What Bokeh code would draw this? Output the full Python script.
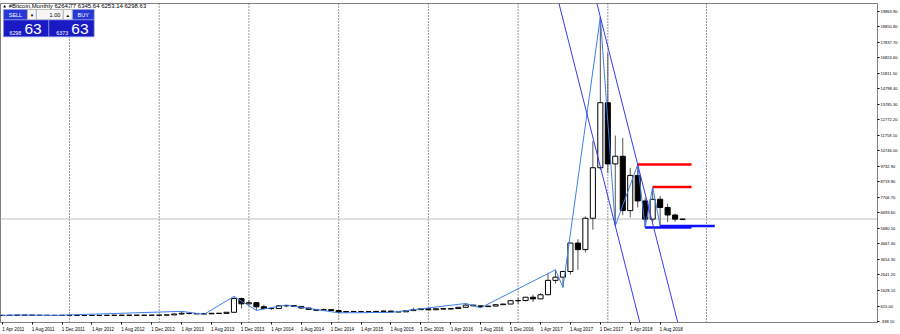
import numpy as np
import pandas as pd
from bokeh.plotting import figure
from bokeh.models import (Range1d, FixedTicker, PrintfTickFormatter, Span, Slope,
                          Label, ColumnDataSource)
from bokeh.embed import file_html
from bokeh.resources import INLINE

# ---------------- data ----------------
header_text = "#Bitcoin,Monthly  6264.77 6345.64 6253.14 6298.63"
months = pd.date_range("2011-04-01", "2018-11-01", freq="MS")

opens = [0.8, 3.5, 8.7, 16.1, 13.4, 8.2, 5.1, 3.3, 3.0,
         4.7, 5.5, 4.9, 4.9, 5.0, 5.2, 6.7, 9.4, 10.2, 12.4, 11.2, 12.6,
         13.5, 20.4, 33.4, 93, 139, 129, 97, 106, 140, 133, 204, 1100,
         757, 830, 565, 457, 447, 628, 640, 587, 481, 388, 338, 378,
         320, 217, 254, 244, 236, 230, 263, 284, 230, 236, 314, 377,
         430, 369, 437, 416, 448, 531, 673, 624, 574, 609, 700, 742,
         963, 970, 1190, 1080, 1350, 2290, 2500, 2870, 4730, 4300, 6350, 9650,
         13900, 9900, 10400, 6850, 9150, 7480, 6290, 7590, 7050, 6560, 6264.77]
highs = [3.9, 8.9, 31.9, 16.5, 13.9, 8.3, 5.2, 3.6, 4.8,
         7.4, 6.3, 5.4, 5.3, 5.2, 6.7, 9.6, 16.4, 12.9, 12.9, 12.6, 14.0,
         20.6, 33.8, 95, 266, 140, 130, 111, 140, 147, 213, 1242, 1160,
         1000, 870, 700, 540, 630, 680, 660, 600, 520, 425, 460, 400,
         320, 265, 300, 262, 248, 268, 317, 285, 245, 335, 503, 467,
         462, 448, 439, 468, 549, 780, 704, 627, 630, 720, 756, 980,
         1150, 1200, 1350, 1450, 2780, 2980, 2920, 4760, 4980, 6470, 11400, 19500,
         17150, 11750, 11600, 9650, 9860, 7700, 8390, 7800, 7300, 6650, 6345.64]
lows = [0.6, 2.9, 8.6, 12.9, 6.5, 4.3, 2.0, 2.0, 2.3,
        4.6, 4.2, 4.6, 4.7, 4.9, 5.2, 6.5, 7.1, 9.8, 9.7, 10.0, 12.0,
        13.0, 19.1, 33.0, 50, 79, 88, 65, 100, 105, 105, 200, 455,
        740, 330, 440, 360, 420, 530, 570, 450, 380, 275, 310, 310,
        166, 212, 236, 215, 225, 220, 253, 198, 225, 235, 300, 347,
        352, 366, 396, 414, 442, 526, 606, 500, 565, 604, 683, 740,
        750, 920, 890, 1060, 1330, 2080, 1830, 2670, 2980, 4110, 5600, 9500,
        9300, 5860, 6550, 6400, 7050, 5750, 6100, 5850, 6100, 6120, 6253.14]
closes = [3.5, 8.7, 16.1, 13.4, 8.2, 5.1, 3.3, 3.0, 4.7,
          5.5, 4.9, 4.9, 5.0, 5.2, 6.7, 9.4, 10.2, 12.4, 11.2, 12.6, 13.5,
          20.4, 33.4, 93, 139, 129, 97, 106, 140, 133, 204, 1100, 757,
          830, 565, 457, 447, 628, 640, 587, 481, 388, 338, 378, 320,
          217, 254, 244, 236, 230, 263, 284, 230, 236, 314, 377, 430,
          369, 437, 416, 448, 531, 673, 624, 574, 609, 700, 742, 963,
          970, 1190, 1080, 1350, 2290, 2500, 2870, 4730, 4300, 6350, 9650, 13900,
          9900, 10400, 6850, 9150, 7480, 6290, 7590, 7050, 6560, 6290, 6298.63]

# zigzag vertices (bar index, price)
zz_idx = [0, 2, 7, 24, 27, 31, 34, 38, 45, 52, 62, 64, 74, 75, 80, 82, 85, 86, 87, 88]
zz_val = [0.6, 31.9, 2.0, 266, 65, 1242, 330, 680, 166, 198, 780, 500,
          2980, 1830, 19500, 5860, 9860, 5750, 8390, 5850]

# channel: base line through two points, parallel line through a third
chan_idx = [80, 85]
chan_val = [19500, 9860]
chan_par_idx = 82
chan_par_val = 5860

# horizontal levels (start bar, price)
level_idx = [85, 87, 86, 88]
level_val = [9860, 8390, 5750, 5850]
level_kind = ["res", "res", "sup", "sup"]

x_tick_labels = ["1 Apr 2011", "1 Aug 2011", "1 Dec 2011", "1 Apr 2012", "1 Aug 2012",
                 "1 Dec 2012", "1 Apr 2013", "1 Aug 2013", "1 Dec 2013", "1 Apr 2014",
                 "1 Aug 2014", "1 Dec 2014", "1 Apr 2015", "1 Aug 2015", "1 Dec 2015",
                 "1 Apr 2016", "1 Aug 2016", "1 Dec 2016", "1 Apr 2017", "1 Aug 2017",
                 "1 Dec 2017", "1 Apr 2018", "1 Aug 2018"]
y_ticks = [-398.10, 615.00, 1628.10, 2641.20, 3654.30, 4667.40, 5680.50, 6693.60,
           7706.70, 8719.80, 9732.90, 10746.00, 11759.10, 12772.20, 13785.30,
           14798.40, 15811.50, 16824.60, 17837.70, 18850.80, 19863.90]

bid_big, bid_small = "63", "6298"
ask_big, ask_small = "63", "6373"
lot_text = "1.00"

# ---------------- layout helpers ----------------
FR_L, FR_R, FR_T, FR_B = 0, 880, 3, 324
X0, X1 = -0.227, 117.07
Y0, Y1 = -463.0, 20383.0


def px2x(px):
    return X0 + (px - FR_L) / (FR_R - FR_L) * (X1 - X0)


def py2y(py):
    return Y0 + (FR_B - py) / (FR_B - FR_T) * (Y1 - Y0)


FONT = "Liberation Sans"

p = figure(width=900, height=334, output_backend="svg", toolbar_location=None,
           x_range=Range1d(X0, X1), y_range=Range1d(Y0, Y1),
           y_axis_location="right",
           min_border_left=0, min_border_right=20, min_border_top=3, min_border_bottom=10)
p.xgrid.visible = False
p.ygrid.visible = False
p.background_fill_color = "white"
p.border_fill_color = "white"
p.outline_line_color = "#808080"

# x axis
idx = np.arange(len(months))
label_pos = list(range(0, 4 * len(x_tick_labels), 4))
shift = 1.5
xa = p.xaxis[0]
xa.ticker = FixedTicker(ticks=[m + shift for m in label_pos], minor_ticks=label_pos)
xa.major_label_overrides = {m + shift: t for m, t in zip(label_pos, x_tick_labels)}
xa.major_tick_line_color = None
xa.major_tick_out = 0
xa.major_tick_in = 0
xa.minor_tick_line_color = "#000000"
xa.minor_tick_out = 2
xa.minor_tick_in = 0
xa.major_label_standoff = 2
xa.major_label_text_font_size = "4.6px"
xa.major_label_text_font = FONT
xa.major_label_text_color = "#000000"
xa.axis_line_color = "#808080"

# y axis (right)
ya = p.yaxis[0]
ya.ticker = FixedTicker(ticks=y_ticks)
ya.formatter = PrintfTickFormatter(format="%.2f")
ya.major_tick_out = 2
ya.major_tick_in = 0
ya.minor_tick_line_color = None
ya.major_tick_line_color = "#000000"
ya.major_label_standoff = 1
ya.major_label_text_font_size = "4.1px"
ya.major_label_text_font = FONT
ya.major_label_text_color = "#000000"
ya.axis_line_color = "#808080"

# grid lines at year boundaries (plus the future-area separator)
year_starts = [i for i, d in enumerate(months) if d.month == 1]
for g in year_starts + [94.2]:
    p.add_layout(Span(location=g, dimension="height", line_color="#303030",
                      line_width=1, line_dash="1 2", level="underlay"))

# current price line
p.add_layout(Span(location=closes[-1], dimension="width", line_color="#c0c0c0",
                  line_width=1, level="underlay"))

# candles
o = np.array(opens, float)
c = np.array(closes, float)
src = ColumnDataSource(dict(
    x=idx, hi=highs, lo=lows,
    top=np.maximum(o, c), bot=np.minimum(o, c),
    fill=["white" if cc >= oo else "black" for oo, cc in zip(o, c)],
))
p.segment(x0="x", y0="lo", x1="x", y1="hi", source=src, line_color="#555555", line_width=1)
p.vbar(x="x", width=0.68, top="top", bottom="bot", source=src,
       fill_color="fill", line_color="black", line_width=1)

# zigzag
p.line(zz_idx, zz_val, line_color="#3f7fe8", line_width=1)

# channel lines
grad = (chan_val[1] - chan_val[0]) / (chan_idx[1] - chan_idx[0])
p.add_layout(Slope(gradient=grad, y_intercept=chan_val[0] - grad * chan_idx[0],
                   line_color="#3a3aee", line_width=1))
p.add_layout(Slope(gradient=grad, y_intercept=chan_par_val - grad * chan_par_idx,
                   line_color="#3a3aee", line_width=1))

# horizontal levels
ray_end = [92.2, 92.2, 92.2, 95.3]
for s, v, k, e in zip(level_idx, level_val, level_kind, ray_end):
    p.segment(x0=[s], y0=[v], x1=[e], y1=[v],
              line_color="#ff0000" if k == "res" else "#1010ff", line_width=2.5)

# price tag on axis
p.add_layout(Label(x=px2x(880.5), y=closes[-1], text="6298.63", text_font=FONT,
                   text_font_size="4.1px", text_color="white", text_baseline="middle",
                   text_align="left", background_fill_color="black"))

# header
p.add_layout(Label(x=px2x(8.3), y=py2y(5.5), text=header_text, text_font=FONT,
                   text_font_size="6px", text_color="black", text_baseline="middle",
                   text_align="left"))
p.add_layout(Label(x=px2x(4), y=py2y(5.5), text="\u25b2", text_font="DejaVu Sans",
                   text_font_size="3.5px", text_color="black", text_baseline="middle",
                   text_align="center"))

# one-click trading panel
btn_blue = "#2838d2"
big_blue = "#1a1ac4"
p.quad(left=[px2x(3), px2x(72)], right=[px2x(27), px2x(94)],
       top=[py2y(9)] * 2, bottom=[py2y(19.5)] * 2,
       fill_color=btn_blue, line_color="#8c96e6", line_width=0.7)
p.quad(left=[px2x(27), px2x(36), px2x(63)], right=[px2x(36), px2x(63), px2x(72)],
       top=[py2y(9)] * 3, bottom=[py2y(19.5)] * 3,
       fill_color="#f6f6f6", line_color="#a0a0a0", line_width=0.7)
p.quad(left=[px2x(3), px2x(48.5)], right=[px2x(48.5), px2x(94)],
       top=[py2y(19.5)] * 2, bottom=[py2y(36.5)] * 2,
       fill_color=big_blue, line_color="#8c96e6", line_width=0.7)


def lab(px, py, text, size, color="white", align="left", font=FONT):
    p.add_layout(Label(x=px2x(px), y=py2y(py), text=text, text_font=font,
                       text_font_size=size, text_color=color, text_baseline="middle",
                       text_align=align))


lab(15, 14.3, "SELL", "5.5px", align="center")
lab(83, 14.3, "BUY", "5.5px", align="center")
lab(31.5, 14.3, "\u25be", "5px", color="black", align="center", font="DejaVu Sans")
lab(67.5, 14.3, "\u25b4", "5px", color="black", align="center", font="DejaVu Sans")
lab(60, 14.3, lot_text, "5.5px", color="black", align="right")
lab(9, 32.5, bid_small, "5.3px")
lab(24, 28.3, bid_big, "15.5px")
lab(56, 32.5, ask_small, "5.3px")
lab(71, 28.3, ask_big, "15.5px")

open("out.html", "w").write(file_html(p, INLINE))
